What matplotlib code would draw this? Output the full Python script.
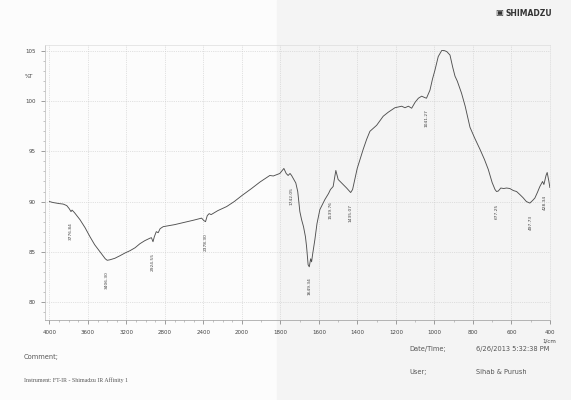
import numpy as np
import matplotlib
matplotlib.use("Agg")
import matplotlib.pyplot as plt
from matplotlib.patches import Rectangle

# FTIR transmittance spectrum (wavenumber in 1/cm, %T)
wavenumber = [4000, 3960, 3900, 3857, 3820, 3795, 3776, 3765, 3740, 3683,
              3630, 3579, 3530, 3475, 3420, 3400, 3371, 3320, 3268, 3210,
              3164, 3110, 3060, 3010, 2956, 2940, 2924, 2910, 2890, 2870,
              2850, 2818, 2700, 2610, 2500, 2419, 2395, 2378, 2360, 2340,
              2320, 2250, 2159, 2080, 2000, 1950, 1906, 1855, 1837, 1803,
              1790, 1782, 1770, 1760, 1750, 1742, 1720, 1710, 1699, 1690,
              1680, 1670, 1664, 1656, 1650, 1643, 1638, 1633, 1621, 1610,
              1595, 1569, 1550, 1540, 1526, 1512, 1500, 1482, 1456, 1435,
              1425, 1410, 1401, 1370, 1352, 1335, 1300, 1266, 1240, 1205,
              1170, 1153, 1135, 1118, 1100, 1083, 1066, 1049, 1041, 1023,
              1010, 997, 980, 962, 950, 936, 919, 905, 893, 881,
              859, 840, 815, 790, 763, 740, 720, 700, 685, 677,
              668, 655, 640, 625, 608, 590, 573, 556, 540, 522,
              504, 490, 478, 465, 452, 438, 431, 420, 414, 405, 400]
transmittance = [90.0, 89.9, 89.8, 89.75, 89.6, 89.3, 89.0, 89.15, 88.9, 88.2,
                 87.4, 86.5, 85.7, 85.0, 84.3, 84.15, 84.2, 84.35, 84.6, 84.9,
                 85.1, 85.4, 85.8, 86.1, 86.35, 86.4, 86.0, 86.5, 87.0, 86.9,
                 87.3, 87.5, 87.7, 87.9, 88.15, 88.35, 88.1, 88.0, 88.6, 88.8,
                 88.7, 89.1, 89.5, 90.0, 90.6, 91.3, 91.95, 92.6, 92.55, 92.8,
                 93.1, 93.3, 92.8, 92.6, 92.8, 92.6, 91.85, 91.0, 89.0, 88.2,
                 87.5, 86.5, 85.5, 83.7, 83.5, 84.3, 84.0, 84.7, 86.2, 87.8,
                 89.2, 90.2, 90.8, 91.2, 91.5, 93.1, 92.2, 91.85, 91.35, 90.9,
                 91.2, 92.5, 93.3, 95.2, 96.2, 97.0, 97.6, 98.5, 98.9, 99.35,
                 99.5, 99.35, 99.5, 99.3, 99.9, 100.3, 100.5, 100.35, 100.3, 101.1,
                 102.2, 103.1, 104.45, 105.05, 105.05, 104.95, 104.6, 103.4, 102.5, 102.0,
                 100.8, 99.5, 97.4, 96.3, 95.2, 94.2, 93.2, 91.9, 91.2, 91.0,
                 91.05, 91.35, 91.3, 91.35, 91.3, 91.1, 91.0, 90.7, 90.4, 90.0,
                 89.85, 90.1, 90.35, 90.9, 91.5, 92.0, 91.7, 92.6, 92.9, 92.0, 91.4]

peak_labels = ["3776.84", "3406.30", "2924.55", "2378.30", "1742.05", "1649.34",
               "1539.76", "1435.07", "1041.27", "677.25", "497.73", "428.34"]

xticks = [4000, 3600, 3200, 2800, 2400, 2000, 1800, 1600, 1400, 1200, 1000, 800, 600, 400]
yticks = [80, 85, 90, 95, 100, 105]


# wavenumber axis is expanded x2 below 2000 1/cm
def fwd(x):
    x = np.asarray(x, dtype=float)
    return np.where(x < 2000, x, 2000 + (x - 2000) / 2)


def inv(p):
    p = np.asarray(p, dtype=float)
    return np.where(p < 2000, p, 2000 + 2 * (p - 2000))


fig = plt.figure(figsize=(5.71, 4.0), dpi=100)
fig.patch.set_facecolor("#fcfcfc")
fig.patches.append(Rectangle((0.485, 0), 0.515, 1, transform=fig.transFigure,
                             color="#f4f4f4", zorder=-10))

ax = fig.add_axes([0.079, 0.2, 0.884, 0.6875])
ax.patch.set_alpha(0)
ax.set_xscale("function", functions=(fwd, inv))
ax.set_xlim(4045, 400)
ax.set_ylim(78.2, 105.6)

ax.plot(wavenumber, transmittance, color="#505050", lw=0.65)

# peak picks, printed vertically under each band
wn_sorted = np.array(wavenumber[::-1], dtype=float)
t_sorted = np.array(transmittance[::-1], dtype=float)
for lab in peak_labels:
    wn = float(lab)
    t = np.interp(wn, wn_sorted, t_sorted)
    ax.text(wn, t - 2.0, lab, rotation=90, fontsize=3.2, color="#444444",
            ha="center", va="center")

ax.set_xticks(xticks)
ax.set_xticklabels([str(v) for v in xticks])
ax.set_xticks(list(range(3900, 2000, -100)) + list(range(1900, 400, -100)), minor=True)
ax.set_yticks(yticks)
ax.set_yticks(np.arange(79, 106, 1), minor=True)
ax.tick_params(axis="both", which="major", labelsize=4, colors="#777777",
               labelcolor="#444444", length=3, width=0.5, pad=4)
ax.tick_params(axis="both", which="minor", colors="#999999", length=1.5, width=0.4)
ax.grid(True, which="major", ls=":", lw=0.5, color="#c8c8c8")

for side in ["top", "right"]:
    ax.spines[side].set_color("#dddddd")
    ax.spines[side].set_linewidth(0.5)
ax.spines["right"].set_linestyle(":")
ax.spines["left"].set_color("#bbbbbb")
ax.spines["left"].set_linewidth(0.5)
ax.spines["bottom"].set_color("#999999")
ax.spines["bottom"].set_linewidth(0.5)

fig.text(25 / 571, 1 - 77 / 400, "%T", fontsize=4, color="#444444", va="center")
fig.text(549 / 571, 1 - 341 / 400, "1/cm", fontsize=4, color="#444444", ha="center", va="center")

# header and footer of the printout
fig.text(503 / 571, 1 - 13 / 400, "▣", fontsize=6, color="#333333", ha="right", va="center")
fig.text(505 / 571, 1 - 13 / 400, "SHIMADZU", fontsize=5.5, fontweight="bold",
         color="#333333", va="center")
fig.text(24 / 571, 1 - 357 / 400, "Comment;", fontsize=4.8, color="#555555", va="center")
fig.text(24 / 571, 1 - 380 / 400, "Instrument: FT-IR - Shimadzu IR Affinity 1", fontsize=4.2,
         family="Liberation Serif", color="#555555", va="center")
fig.text(409 / 571, 1 - 349 / 400, "Date/Time;", fontsize=4.8, color="#555555", va="center")
fig.text(476 / 571, 1 - 349 / 400, "6/26/2013 5:32:38 PM", fontsize=4.8, color="#555555", va="center")
fig.text(409 / 571, 1 - 372 / 400, "User;", fontsize=4.8, color="#555555", va="center")
fig.text(476 / 571, 1 - 372 / 400, "Sihab & Purush", fontsize=4.8, color="#555555", va="center")

fig.savefig("out.png", dpi=100, facecolor=fig.get_facecolor())
